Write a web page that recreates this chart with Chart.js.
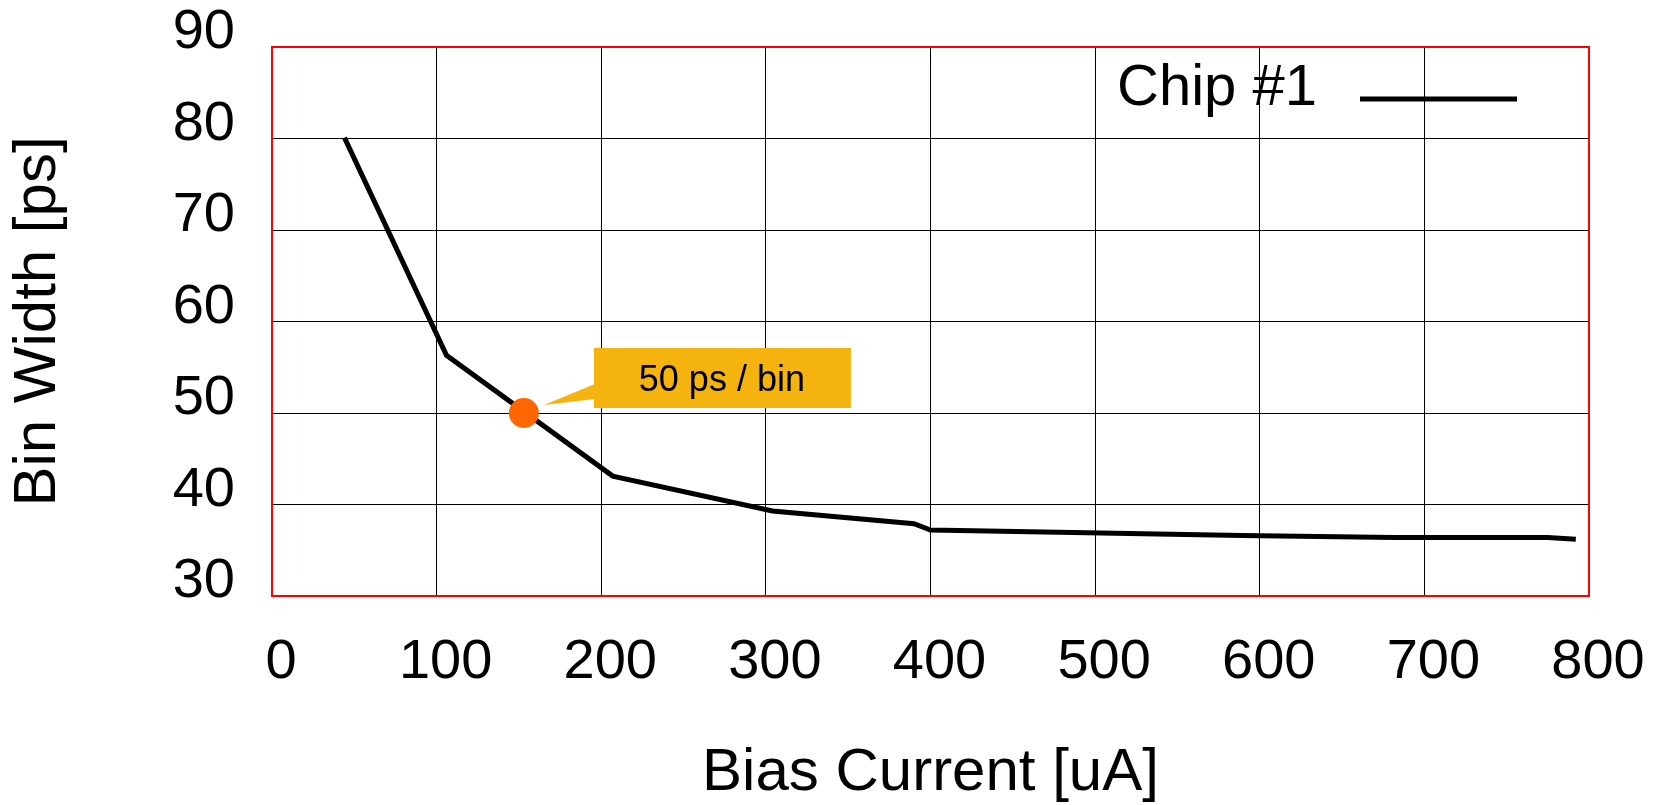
<!DOCTYPE html>
<html>
<head>
<meta charset="utf-8">
<script src="https://cdn.jsdelivr.net/npm/chart.js@4.4.1/dist/chart.umd.min.js"></script>
<style>
  html, body { margin: 0; padding: 0; background: #fff; }
  canvas { display: block; }
</style>
</head>
<body>
<canvas id="binChart" width="1656" height="805"></canvas>
<script>
// dados
const biasCurrent = [44, 106, 207, 304, 390, 400, 495, 589, 682, 775, 792];
const binWidth = [80.1, 56.3, 43.1, 39.3, 37.9, 37.2, 36.9, 36.6, 36.4, 36.4, 36.2];
const markerCurrent = [153];
const markerWidth = [50];
const xTicks = [0, 100, 200, 300, 400, 500, 600, 700, 800];
const yTicks = [30, 40, 50, 60, 70, 80, 90];
const seriesLabel = 'Chip #1';
const calloutText = '50 ps / bin';

const FONT = '"Liberation Sans", Arial, Helvetica, sans-serif';

// tamanho fixo do eixo, sem padding extra dos rótulos
function fixAxis(size, horizontal) {
    return s => {
        if (horizontal) s.height = size; else s.width = size;
        s.paddingLeft = 0;
        s.paddingRight = 0;
        s.paddingTop = 0;
        s.paddingBottom = 0;
    };
}

// moldura vermelha em volta da área do gráfico
const framePlugin = {
    id: 'frame',
    beforeDatasetsDraw(chart) {
        const { ctx, chartArea: a } = chart;
        ctx.save();
        ctx.strokeStyle = '#ff0000';
        ctx.lineWidth = 2;
        ctx.strokeRect(a.left, a.top, a.right - a.left, a.bottom - a.top);
        ctx.restore();
    }
};

// legenda no estilo gnuplot (texto + amostra da linha)
const keyPlugin = {
    id: 'key',
    afterDatasetsDraw(chart) {
        const { ctx, chartArea: a } = chart;
        const ds = chart.data.datasets[1];
        ctx.save();
        ctx.font = '58px ' + FONT;
        ctx.fillStyle = '#000';
        ctx.textAlign = 'right';
        ctx.textBaseline = 'alphabetic';
        ctx.fillText(ds.label, a.right - 272, a.top + 58);
        ctx.strokeStyle = ds.borderColor;
        ctx.lineWidth = ds.borderWidth;
        ctx.beginPath();
        ctx.moveTo(a.right - 229, a.top + 52);
        ctx.lineTo(a.right - 72, a.top + 52);
        ctx.stroke();
        ctx.restore();
    }
};

// balão "50 ps / bin" preso ao ponto laranja
const calloutPlugin = {
    id: 'callout',
    afterDraw(chart) {
        const pt = chart.getDatasetMeta(0).data[0];
        if (!pt) return;
        const { ctx } = chart;
        const x = pt.x, y = pt.y;
        ctx.save();
        ctx.fillStyle = '#f4b30e';
        ctx.beginPath();
        ctx.moveTo(x + 20, y - 8);
        ctx.lineTo(x + 71, y - 29);
        ctx.lineTo(x + 71, y - 14);
        ctx.closePath();
        ctx.fill();
        ctx.fillRect(x + 70, y - 65, 257, 60);
        ctx.fillStyle = '#000';
        ctx.font = '36px ' + FONT;
        ctx.textAlign = 'center';
        ctx.textBaseline = 'alphabetic';
        ctx.fillText(calloutText, x + 198, y - 22);
        ctx.restore();
    }
};

const ctx = document.getElementById('binChart').getContext('2d');
new Chart(ctx, {
    type: 'scatter',
    data: {
        datasets: [
            {
                label: 'marker',
                data: markerCurrent.map((v, i) => ({ x: v, y: markerWidth[i] })),
                pointRadius: 15,
                pointBackgroundColor: '#ff6600',
                pointBorderWidth: 0,
                showLine: false,
                order: 0
            },
            {
                label: seriesLabel,
                data: biasCurrent.map((v, i) => ({ x: v, y: binWidth[i] })),
                showLine: true,
                borderColor: '#000',
                borderWidth: 5,
                pointRadius: 0,
                tension: 0,
                order: 1
            }
        ]
    },
    options: {
        responsive: false,
        animation: false,
        layout: { padding: { left: 0, top: 47, right: 67, bottom: 0 } },
        plugins: {
            legend: { display: false },
            tooltip: { enabled: false }
        },
        scales: {
            x: {
                type: 'linear',
                min: 0,
                max: 800,
                afterBuildTicks: s => { s.ticks = xTicks.map(v => ({ value: v })); },
                afterFit: fixAxis(209, true),
                grid: { color: '#000', lineWidth: 1, drawTicks: false },
                border: { display: false },
                ticks: {
                    autoSkip: false,
                    maxRotation: 0,
                    padding: 33,
                    labelOffset: 9,
                    color: '#000',
                    font: { family: FONT, size: 56 }
                },
                title: {
                    display: true,
                    text: 'Bias Current [uA]',
                    color: '#000',
                    padding: 0,
                    font: { family: FONT, size: 60, lineHeight: 1.05 }
                }
            },
            y: {
                min: 30,
                max: 90,
                afterBuildTicks: s => { s.ticks = yTicks.map(v => ({ value: v })); },
                afterFit: fixAxis(272, false),
                grid: { color: '#000', lineWidth: 1, drawTicks: false },
                border: { display: false },
                ticks: {
                    autoSkip: false,
                    padding: 37,
                    labelOffset: -14,
                    color: '#000',
                    font: { family: FONT, size: 56 }
                },
                title: {
                    display: true,
                    text: 'Bin Width [ps]',
                    color: '#000',
                    padding: 0,
                    font: { family: FONT, size: 60, lineHeight: 1.297 }
                }
            }
        }
    },
    plugins: [framePlugin, keyPlugin, calloutPlugin]
});
</script>
</body>
</html>
